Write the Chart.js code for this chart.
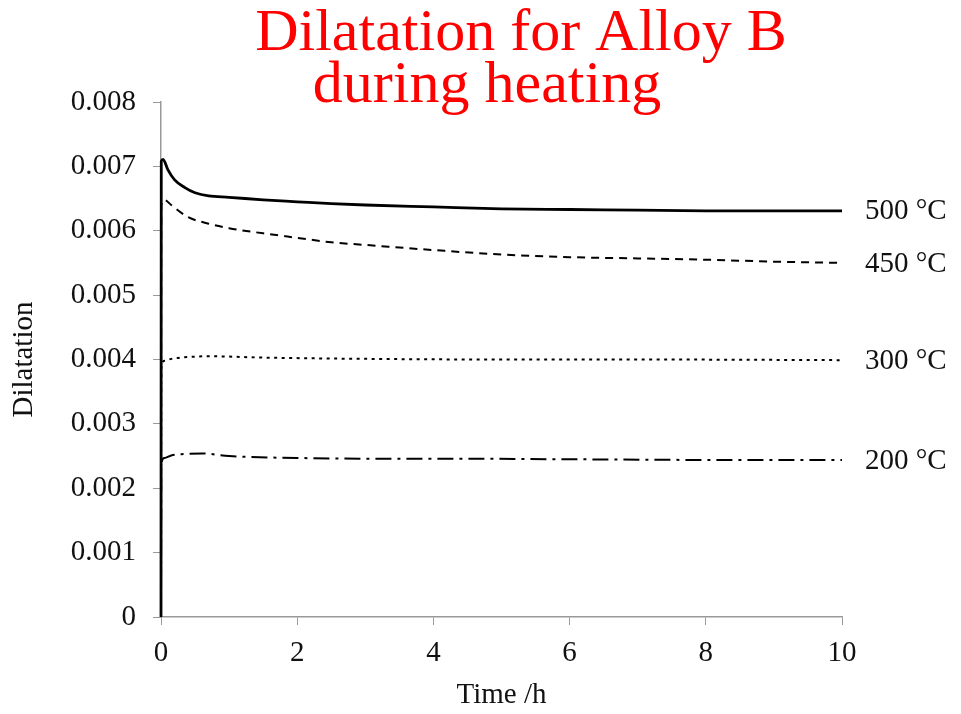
<!DOCTYPE html>
<html>
<head>
<meta charset="utf-8">
<script src="https://cdn.jsdelivr.net/npm/chart.js@4.4.1/dist/chart.umd.min.js"></script>
<style>
html,body{margin:0;padding:0;background:#fff;}
canvas{display:block;}
</style>
</head>
<body>
<canvas id="c" width="961" height="714"></canvas>
<script>
// ---- data ----
const titleLines = ['Dilatation for Alloy B', 'during heating'];
const xTicks = [0, 2, 4, 6, 8, 10];
const yTicks = [0, 0.001, 0.002, 0.003, 0.004, 0.005, 0.006, 0.007, 0.008];
const seriesLabels = ['500 °C', '450 °C', '300 °C', '200 °C'];

const t500 = [0, 0.004, 0.03, 0.1, 0.2, 0.35, 0.5, 0.7, 1.0, 1.5, 2, 2.5, 3, 4, 5, 6, 7, 8, 9, 10];
const d500 = [0, 0.00708, 0.00711, 0.00695, 0.00679, 0.00667, 0.00659, 0.00654, 0.00652, 0.00648, 0.00645, 0.00642, 0.00640, 0.00637, 0.00634, 0.00633, 0.00632, 0.00631, 0.00631, 0.00631];

const t450 = [0, 0.004, 0.05, 0.15, 0.4, 0.7, 1.0, 1.5, 2, 2.5, 3, 4, 5, 6, 7, 8, 9, 10];
const d450 = [0, 0.00640, 0.00648, 0.00640, 0.00621, 0.00611, 0.00604, 0.00596, 0.00589, 0.00582, 0.00578, 0.00570, 0.00563, 0.00559, 0.00557, 0.00555, 0.00552, 0.00550];

const t300 = [0, 0.004, 0.05, 0.15, 0.3, 0.7, 1.5, 3, 5, 7, 10];
const d300 = [0, 0.00385, 0.00398, 0.00401, 0.00403, 0.00405, 0.00403, 0.00401, 0.00400, 0.00400, 0.00399];

const t200 = [0, 0.004, 0.05, 0.15, 0.3, 0.6, 1, 2, 3, 4, 6, 8, 10];
const d200 = [0, 0.00238, 0.00247, 0.00251, 0.00253, 0.00254, 0.00250, 0.00247, 0.00246, 0.00246, 0.00245, 0.00244, 0.00244];

const pts = (t, d) => t.map((x, i) => ({x: x, y: d[i]}));

const serif = "'Liberation Serif', 'Times New Roman', serif";

const endLabels = {
  id: 'endLabels',
  afterDatasetsDraw(chart) {
    const ctx = chart.ctx;
    ctx.save();
    ctx.font = '29px ' + serif;
    ctx.fillStyle = '#111';
    ctx.textAlign = 'left';
    ctx.textBaseline = 'middle';
    chart.data.datasets.forEach((ds, i) => {
      const meta = chart.getDatasetMeta(i);
      const last = meta.data[meta.data.length - 1];
      ctx.fillText(seriesLabels[i], chart.chartArea.right + 23, last.y + 1);
    });
    ctx.restore();
  }
};

const redTitle = {
  id: 'redTitle',
  afterDraw(chart) {
    const ctx = chart.ctx;
    ctx.save();
    ctx.font = '60px ' + serif;
    ctx.fillStyle = '#ff0000';
    ctx.textAlign = 'center';
    ctx.textBaseline = 'alphabetic';
    ctx.fillText(titleLines[0], 521, 50);
    ctx.fillText(titleLines[1], 487, 102);
    ctx.restore();
  }
};

new Chart(document.getElementById('c'), {
  type: 'line',
  data: {
    datasets: [
      {label: seriesLabels[0], data: pts(t500, d500), borderColor: '#000', borderWidth: 2.8, borderDash: [], clip: 6},
      {label: seriesLabels[1], data: pts(t450, d450), borderColor: '#000', borderWidth: 2, borderDash: [8, 6], clip: 6},
      {label: seriesLabels[2], data: pts(t300, d300), borderColor: '#000', borderWidth: 2, borderDash: [3, 4.5], clip: 6},
      {label: seriesLabels[3], data: pts(t200, d200), borderColor: '#000', borderWidth: 2, borderDash: [16, 6, 3, 6], clip: 6}
    ]
  },
  options: {
    responsive: false,
    animation: false,
    devicePixelRatio: 1,
    elements: {point: {radius: 0}, line: {tension: 0.3, cubicInterpolationMode: 'monotone', borderCapStyle: 'butt'}},
    layout: {padding: {top: 102, right: 119, left: 0, bottom: 0}},
    plugins: {legend: {display: false}, tooltip: {enabled: false}, title: {display: false}},
    scales: {
      x: {
        type: 'linear', min: 0, max: 10,
        afterBuildTicks: s => { s.ticks = xTicks.map(v => ({value: v})); },
        afterFit: s => { s.height = 97; },
        grid: {display: true, drawOnChartArea: false, drawTicks: true, tickLength: 8, color: '#999', lineWidth: 1},
        border: {display: true, color: '#999', width: 1.5},
        ticks: {color: '#111', font: {family: serif, size: 29}, padding: 11, maxRotation: 0},
        title: {display: true, text: 'Time /h', color: '#111', font: {family: serif, size: 29}, padding: {top: 0, bottom: 1}}
      },
      y: {
        type: 'linear', min: 0, max: 0.008,
        afterBuildTicks: s => { s.ticks = yTicks.map(v => ({value: v})); },
        afterFit: s => { s.width = 161; },
        grid: {display: true, drawOnChartArea: false, drawTicks: true, tickLength: 8, color: '#999', lineWidth: 1},
        border: {display: true, color: '#999', width: 1.5},
        ticks: {color: '#111', font: {family: serif, size: 29}, padding: 17,
          callback: v => v === 0 ? '0' : v.toFixed(3)},
        title: {display: true, text: 'Dilatation', color: '#111', font: {family: serif, size: 29}, padding: {top: 7, bottom: 0}}
      }
    }
  },
  plugins: [endLabels, redTitle]
});
</script>
</body>
</html>
